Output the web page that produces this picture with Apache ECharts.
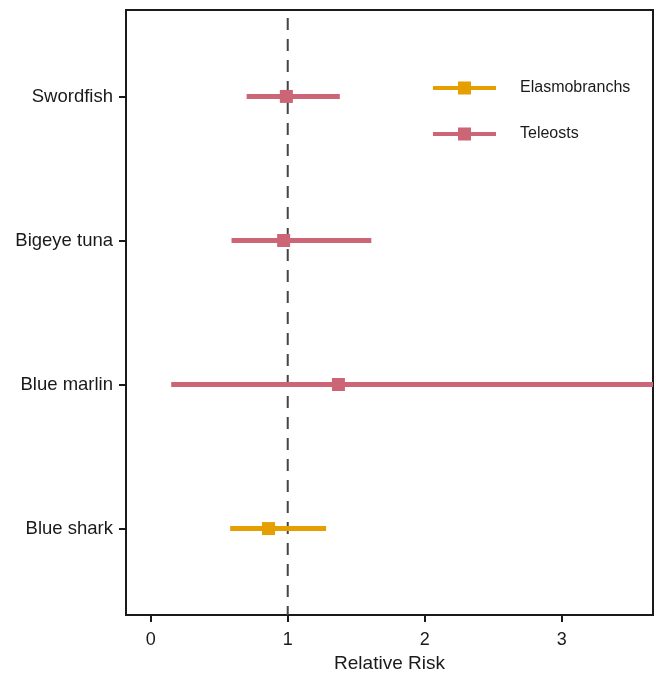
<!DOCTYPE html>
<html>
<head>
<meta charset="utf-8">
<script src="https://cdn.jsdelivr.net/npm/echarts@6/dist/echarts.min.js"></script>
<style>html,body{margin:0;padding:0;background:#fff;}#c{width:656px;height:674px;}</style>
</head>
<body>
<div id="c"></div>
<script>
// Data
const species = ['Blue shark', 'Blue marlin', 'Bigeye tuna', 'Swordfish'];
const groups = ['Elasmobranchs', 'Teleosts', 'Teleosts', 'Teleosts'];
const estimate = [0.86, 1.37, 0.97, 0.99];
const lower = [0.58, 0.15, 0.59, 0.70];
const upper = [1.28, 4.50, 1.61, 1.38];
const xTicks = [0, 1, 2, 3];
const groupNames = ['Elasmobranchs', 'Teleosts'];
const groupColors = { 'Elasmobranchs': '#E69F00', 'Teleosts': '#CC6677' };

const ink = '#1a1a1a';
const font = 'Liberation Sans, Arial, sans-serif';
const yPos = species.map((s, i) => i + 1);

function seriesFor(g) {
  const data = [];
  species.forEach((s, i) => {
    if (groups[i] === g) data.push([estimate[i], yPos[i], lower[i], upper[i]]);
  });
  const color = groupColors[g];
  return {
    type: 'custom',
    name: g,
    clip: true,
    z: 5,
    itemStyle: { color: color },
    encode: { x: [0, 2, 3], y: 1 },
    data: data,
    renderItem: function (params, api) {
      const y = api.value(1);
      const c = api.coord([api.value(0), y]);
      const a = api.coord([api.value(2), y]);
      const b = api.coord([api.value(3), y]);
      return {
        type: 'group',
        children: [
          { type: 'line', shape: { x1: a[0], y1: a[1], x2: b[0], y2: b[1] },
            style: { stroke: color, lineWidth: 5 } },
          { type: 'rect', shape: { x: c[0] - 6.5, y: c[1] - 6.5, width: 13, height: 13 },
            style: { fill: color } }
        ]
      };
    }
  };
}

const iconPath = 'path://M0,4.5 H63 V8.5 H0 Z M25,0 H38 V13 H25 Z';

const chart = echarts.init(document.getElementById('c'), null, { renderer: 'canvas' });
chart.setOption({
  animation: false,
  backgroundColor: '#fff',
  grid: { left: 126, right: 3, top: 10, bottom: 59, outerBoundsMode: 'none', containLabel: false,
          show: true, borderColor: ink, borderWidth: 2, backgroundColor: 'transparent' },
  legend: {
    orient: 'vertical', left: 433, top: 80, padding: 0,
    itemWidth: 63, itemHeight: 13, itemGap: 30,
    data: groupNames.map(n => ({ name: n, icon: iconPath })),
    textStyle: { fontSize: 16, color: ink, fontFamily: font, padding: [0, 0, 0, 19] },
    selectedMode: false
  },
  xAxis: {
    type: 'value', min: -0.18, max: 3.665,
    name: 'Relative Risk', nameLocation: 'middle', nameGap: 38,
    nameTextStyle: { fontSize: 19, color: ink, fontFamily: font },
    axisLine: { show: true, onZero: false, lineStyle: { color: ink, width: 2 } },
    axisTick: { show: true, customValues: xTicks, length: 7, lineStyle: { color: ink, width: 2 } },
    axisLabel: { customValues: xTicks, fontSize: 18, color: ink, margin: 16, fontFamily: font },
    splitLine: { show: false }
  },
  yAxis: {
    type: 'value', min: 0.4, max: 4.6,
    axisLine: { show: true, onZero: false, lineStyle: { color: ink, width: 2 } },
    axisTick: { show: true, customValues: yPos, length: 7, lineStyle: { color: ink, width: 2 } },
    axisLabel: {
      customValues: yPos, fontSize: 18.5, color: ink, margin: 13,
      fontFamily: font, padding: [2, 0, 0, 0],
      formatter: v => species[Math.round(v) - 1] || ''
    },
    splitLine: { show: false }
  },
  series: [
    {
      type: 'line', name: 'ref', z: 1, silent: true, symbol: 'none',
      data: [[1, 4.6], [1, 0.4]],
      lineStyle: { color: '#444', width: 2, type: [12, 9], dashOffset: 13 }
    },
    seriesFor('Elasmobranchs'),
    seriesFor('Teleosts')
  ]
});
</script>
</body>
</html>
